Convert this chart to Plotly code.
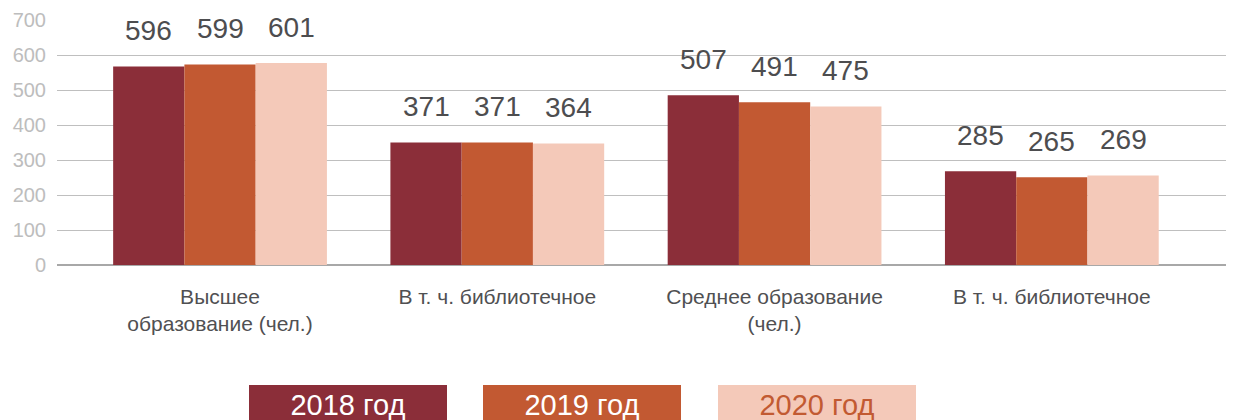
import plotly.graph_objects as go

# ---- data ----
categories = ["Высшее<br>образование (чел.)", "В т. ч. библиотечное",
              "Среднее образование<br>(чел.)", "В т. ч. библиотечное"]
years = ["2018 год", "2019 год", "2020 год"]
# bar heights as drawn in the picture
bars_2018 = [567, 350, 485, 268]
bars_2019 = [573, 350, 465, 251]
bars_2020 = [577, 347, 453, 256]
# value labels printed above the bars
labels_2018 = [596, 371, 507, 285]
labels_2019 = [599, 371, 491, 265]
labels_2020 = [601, 364, 475, 269]
y_ticks = [0, 100, 200, 300, 400, 500, 600, 700]

# ---- style ----
colors = ["#8B2E39", "#C25932", "#F4C9B9"]
legend_text_colors = ["#FFFFFF", "#FFFFFF", "#C25A32"]
OFF = 8  # default page body margin
legend_x_px = [348 - OFF, 582 - OFF, 817 - OFF]
legend_y_px = 405 - OFF
FONT = "Liberation Sans, Arial, Helvetica, sans-serif"
BARGAP = 0.229
W, H = 1234 - OFF, 420 - OFF
ML, MR, MT, MB = 57 - OFF, 0, 20 - OFF, 155

series_bars = [bars_2018, bars_2019, bars_2020]
series_labels = [labels_2018, labels_2019, labels_2020]
xs = list(range(len(categories)))

fig = go.Figure()
for j, (name, vals) in enumerate(zip(years, series_bars)):
    fig.add_trace(go.Bar(x=xs, y=vals, name=name, marker_color=colors[j],
                         marker_line_width=0, showlegend=False))

bw = (1 - BARGAP) / 3
annotations = []
for j, labs in enumerate(series_labels):
    for i, lab in enumerate(labs):
        annotations.append(dict(
            x=i + (j - 1) * bw, y=series_bars[j][i], xref="x", yref="y",
            text=str(lab), showarrow=False, yanchor="middle", yshift=36,
            font=dict(family=FONT, size=28, color="#4D4D4F")))

plot_w = W - ML - MR
plot_h = H - MT - MB
for j, name in enumerate(years):
    annotations.append(dict(
        x=(legend_x_px[j] - ML) / plot_w, y=(H - MB - legend_y_px) / plot_h,
        xref="paper", yref="paper", xanchor="center", yanchor="middle",
        text=name, showarrow=False, width=198, height=40, bgcolor=colors[j],
        borderpad=0, borderwidth=0,
        font=dict(family=FONT, size=29, color=legend_text_colors[j])))

fig.update_layout(
    width=W, height=H, barmode="group", bargap=BARGAP, bargroupgap=0,
    margin=dict(l=ML, r=MR, t=MT, b=MB, pad=0),
    plot_bgcolor="white", paper_bgcolor="white",
    annotations=annotations,
    xaxis=dict(range=[-0.588, 3.657], tickvals=xs, ticktext=categories,
               showgrid=False, zeroline=False, showline=False, ticks="",
               ticklabelstandoff=17,
               tickfont=dict(family=FONT, size=21, color="#505052")),
    yaxis=dict(range=[0, 700], tickvals=y_ticks, showgrid=True,
               gridcolor="#BFBFBF", gridwidth=1, zeroline=True,
               zerolinecolor="#A8A8A8", zerolinewidth=2, ticks="",
               ticklabelstandoff=10,
               tickfont=dict(family=FONT, size=20, color="#BDBDBD")),
)

fig.write_html("out.html")
